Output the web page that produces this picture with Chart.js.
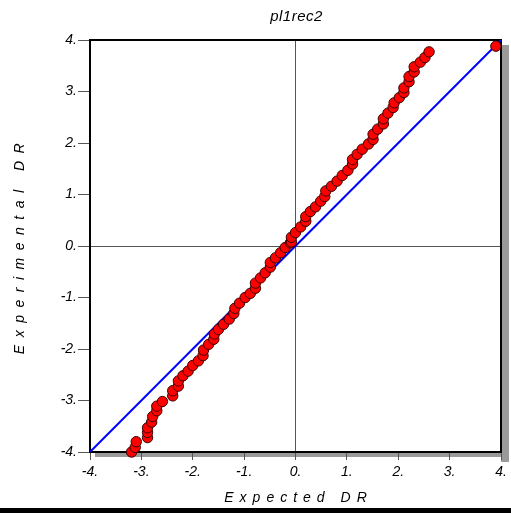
<!DOCTYPE html>
<html>
<head>
<meta charset="utf-8">
<title>pl1rec2</title>
<script src="https://cdn.jsdelivr.net/npm/chart.js@4.4.1/dist/chart.umd.min.js"></script>
<style>
    html, body { margin: 0; padding: 0; background: #fff; }
    #wrap { width: 511px; height: 513px; position: relative; }
</style>
</head>
<body>
<div id="wrap"><canvas id="qqChart"></canvas></div>
<script>
const chartTitle = 'pl1rec2';
const xAxisTitle = 'Expected DR';
const yAxisTitle = 'Experimental DR';

// expected vs experimental DR values
const expectedDR = [
    -3.19, -3.12, -3.10, -2.88, -2.88, -2.88, -2.80, -2.78, -2.70, -2.70,
    -2.59, -2.39, -2.39, -2.28, -2.28, -2.19, -2.09, -2.00, -1.89, -1.80,
    -1.79, -1.69, -1.59, -1.58, -1.50, -1.40, -1.29, -1.20, -1.18, -1.09,
    -0.98, -0.88, -0.78, -0.78, -0.68, -0.59, -0.49, -0.49, -0.39, -0.29,
    -0.20, -0.10, -0.08, -0.08, 0.00, 0.10, 0.20, 0.20, 0.29, 0.39,
    0.49, 0.57, 0.59, 0.70, 0.81, 0.91, 1.02, 1.11, 1.11, 1.20,
    1.30, 1.42, 1.51, 1.51, 1.60, 1.71, 1.71, 1.80, 1.90, 1.92,
    2.02, 2.11, 2.11, 2.21, 2.21, 2.31, 2.31, 2.43, 2.52, 2.60,
    3.90
];
const experimentalDR = [
    -4.00, -3.91, -3.80, -3.72, -3.62, -3.53, -3.42, -3.31, -3.20, -3.11,
    -3.02, -2.91, -2.81, -2.72, -2.62, -2.52, -2.43, -2.32, -2.23, -2.13,
    -2.02, -1.91, -1.81, -1.71, -1.62, -1.52, -1.42, -1.31, -1.21, -1.11,
    -1.00, -0.92, -0.82, -0.72, -0.62, -0.52, -0.41, -0.32, -0.23, -0.13,
    -0.03, 0.06, 0.08, 0.17, 0.26, 0.37, 0.48, 0.57, 0.67, 0.76,
    0.87, 0.96, 1.07, 1.16, 1.26, 1.37, 1.47, 1.59, 1.68, 1.78,
    1.88, 1.98, 2.07, 2.17, 2.27, 2.37, 2.47, 2.58, 2.69, 2.78,
    2.88, 2.98, 3.07, 3.19, 3.29, 3.38, 3.48, 3.57, 3.66, 3.77,
    3.88
];

// reference line y = x
const referenceX = [-4, 4];
const referenceY = [-4, 4];

const axisMin = -4;
const axisMax = 4;

const FONT = "'Liberation Sans', Arial, sans-serif";

const points = expectedDR.map((x, i) => ({ x: x, y: experimentalDR[i] }));
const refLine = referenceX.map((x, i) => ({ x: x, y: referenceY[i] }));

// frame, drop shadow, titles and the bar along the bottom
const decorations = {
    id: 'decorations',
    beforeDraw(chart) {
        const { ctx, chartArea: a } = chart;
        ctx.save();
        ctx.fillStyle = '#9a9a9a';
        ctx.fillRect(a.right, a.top + 5, 8, a.bottom - a.top + 5);
        ctx.fillRect(a.left + 5, a.bottom, a.right - a.left, 5);
        ctx.restore();
    },
    beforeDatasetsDraw(chart) {
        const { ctx, chartArea: a } = chart;
        ctx.save();
        ctx.strokeStyle = '#000';
        ctx.lineWidth = 2;
        ctx.strokeRect(a.left, a.top, a.right - a.left, a.bottom - a.top);
        ctx.restore();
    },
    afterDraw(chart) {
        const { ctx, chartArea: a, width, height } = chart;
        const cx = (a.left + a.right) / 2;
        const cy = (a.top + a.bottom) / 2;
        ctx.save();
        ctx.fillStyle = '#000';
        ctx.textAlign = 'center';
        ctx.textBaseline = 'middle';

        ctx.font = 'italic 15px ' + FONT;
        ctx.letterSpacing = '0.5px';
        ctx.fillText(chartTitle, cx + 1, 17);

        ctx.letterSpacing = '6px';
        ctx.font = 'italic 14px ' + FONT;
        ctx.fillText(xAxisTitle, cx + 3, 498);

        ctx.translate(20, cy - 1);
        ctx.rotate(-Math.PI / 2);
        ctx.letterSpacing = '7.5px';
        ctx.fillText(yAxisTitle, 0, 0);
        ctx.restore();

        ctx.save();
        ctx.fillStyle = '#000';
        ctx.fillRect(0, height - 5, width, 5);
        ctx.restore();
    }
};

const zeroGrid = (ctx) => (ctx.tick && ctx.tick.value === 0 ? '#555' : 'rgba(0,0,0,0)');

const ctx = document.getElementById('qqChart').getContext('2d');
new Chart(ctx, {
    type: 'scatter',
    data: {
        datasets: [
            {
                label: 'DR',
                data: points,
                backgroundColor: '#ff0000',
                borderColor: '#3a0000',
                borderWidth: 1,
                pointRadius: 5.2,
                clip: false,
                order: 0,
            },
            {
                type: 'line',
                label: 'y = x',
                data: refLine,
                showLine: true,
                borderColor: '#0000ff',
                borderWidth: 2,
                pointRadius: 0,
                fill: false,
                order: 1,
            },
        ],
    },
    options: {
        responsive: true,
        maintainAspectRatio: false,
        animation: false,
        layout: { padding: { top: 40, right: 10, left: 0, bottom: 0 } },
        plugins: {
            legend: { display: false },
            tooltip: { enabled: false },
            title: { display: false },
        },
        scales: {
            x: {
                type: 'linear',
                min: axisMin,
                max: axisMax,
                afterFit: (scale) => { scale.height = 61; },
                ticks: {
                    stepSize: 1,
                    color: '#000',
                    padding: 4,
                    maxRotation: 0,
                    font: { family: FONT, size: 14, style: 'italic' },
                    callback: (v) => v + '.',
                },
                grid: {
                    color: zeroGrid,
                    tickColor: '#555',
                    tickLength: 8,
                    lineWidth: 1,
                },
                border: { display: false },
            },
            y: {
                type: 'linear',
                min: axisMin,
                max: axisMax,
                afterFit: (scale) => { scale.width = 90; },
                ticks: {
                    stepSize: 1,
                    color: '#000',
                    padding: 1,
                    font: { family: FONT, size: 14, style: 'italic' },
                    callback: (v) => v + '.',
                },
                grid: {
                    color: zeroGrid,
                    tickColor: '#555',
                    tickLength: 12,
                    lineWidth: 1,
                },
                border: { display: false },
            },
        },
    },
    plugins: [decorations],
});
</script>
</body>
</html>
